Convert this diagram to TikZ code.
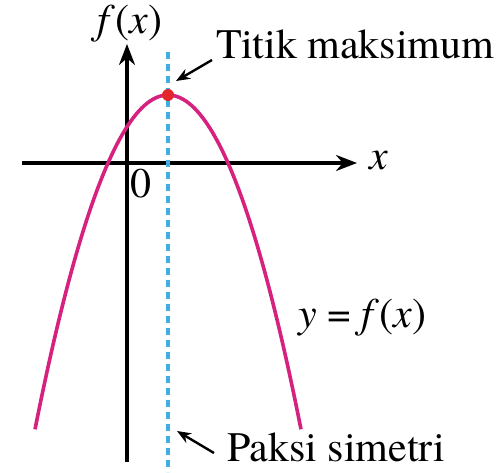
\documentclass[tikz,border=0pt]{standalone}
\usepackage{fontspec}
\setmainfont{TeX Gyre Termes}
\usepackage{tikz}
\usetikzlibrary{arrows.meta,positioning,calc}
\definecolor{curvePink}{HTML}{D6227E}
\definecolor{symBlue}{HTML}{3FAEE3}
\definecolor{dotRed}{HTML}{E2262B}

\begin{document}
\begin{tikzpicture}[
    x=1pt, y=-1pt,
    >=Stealth,
    axis/.style={line width=3.4pt, -{Stealth[length=21pt,width=16pt]}},
    curve/.style={line width=3.6pt, curvePink},
    sym/.style={line width=3.4pt, symBlue, dash pattern=on 7pt off 5pt},
    lbl/.style={font=\fontsize{42}{48}\selectfont, inner sep=0pt},
    pointer/.style={line width=2.4pt, -{Stealth[length=14pt,width=11pt]}},
  ]
  \useasboundingbox (0,0) rectangle (498,473);

  % axes
  \coordinate (xs) at (22,163);
  \coordinate (xe) at (357,163);
  \coordinate (ys) at (127,462);
  \coordinate (ye) at (127,44);
  \draw[axis] (xs) -- (xe);
  \draw[axis] (ys) -- (ye);
  \node[lbl] (xlab) at (379,160) {\textit{x}};
  \node[lbl] (ylab) at (130,24) {\textit{f}(\textit{x})};
  \node[lbl] (orig) at (141,184) {0};

  % axis of symmetry
  \coordinate (st) at (168,52);
  \coordinate (sb) at (168,472);
  \draw[sym] (st) -- (sb);

  % parabola
  \draw[curve] plot[domain=-13.3:13.3, samples=80, smooth]
    ({168+10*\x},{95+1.89*\x*\x});
  \node[fill=dotRed, circle, inner sep=0pt, minimum size=12pt] (vtx) at (168,95) {};

  % labels
  \node[lbl, anchor=west] (maks) at (216,44) {Titik maksimum};
  \node[lbl, anchor=west] (yfx) at (298,318) {\textit{y} = \textit{f}(\textit{x})};
  \node[lbl, anchor=west] (paksi) at (227,447) {Paksi simetri};

  \coordinate (mtip) at (176,81);
  \coordinate (ptip) at (177,431);
  \draw[pointer] (maks.west) ++(-4,16) -- (mtip);
  \draw[pointer] (paksi.west) ++(-13,6) -- (ptip);

\end{tikzpicture}
\end{document}
